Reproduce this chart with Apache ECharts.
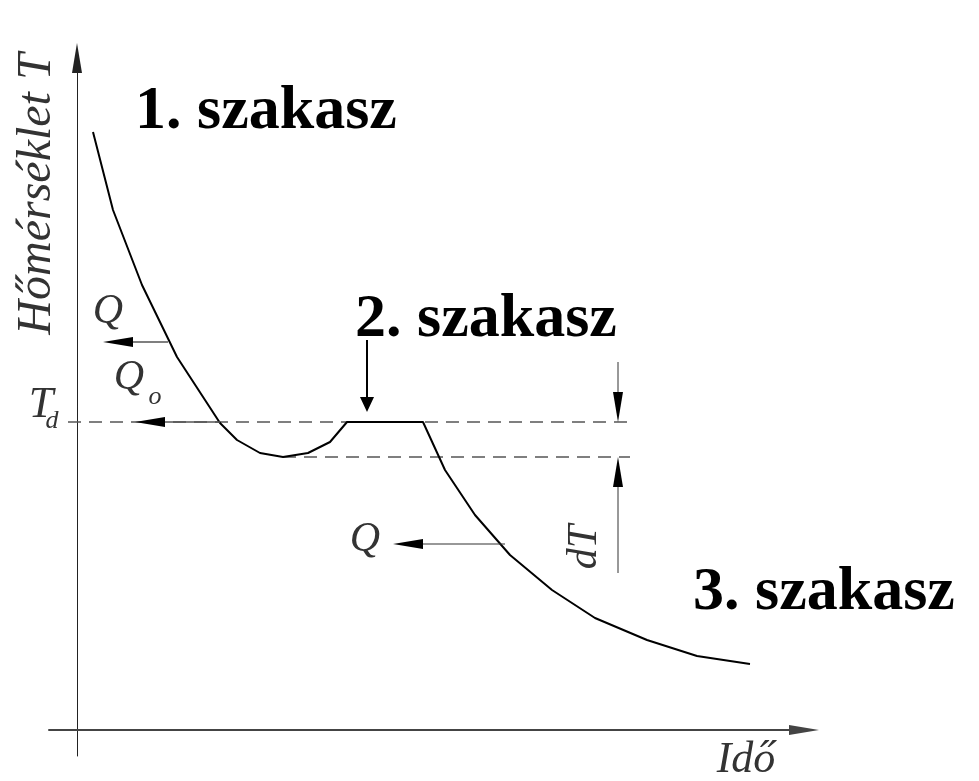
<!DOCTYPE html>
<html>
<head>
<meta charset="utf-8">
<title>Hőmérséklet – Idő</title>
<script src="https://cdn.jsdelivr.net/npm/echarts@6/dist/echarts.min.js"></script>
<style>
html, body { margin: 0; padding: 0; background: #fff; }
#main { width: 979px; height: 781px; }
</style>
</head>
<body>
<div id="main"></div>
<script>
// lehűlési görbe (tetszőleges egységek)
var curveTime = [1.6, 3.6, 6.5, 10.0, 14.3, 16.0, 18.3, 20.6, 23.1, 25.3, 27.0, 34.6, 36.8, 39.8, 43.3, 47.5, 51.8, 57.0, 62.0, 67.3];
var curveTemp = [59.8, 52.0, 44.5, 37.3, 30.7, 29.0, 27.7, 27.3, 27.7, 28.8, 30.8, 30.8, 26.0, 21.5, 17.5, 14.0, 11.2, 9.0, 7.4, 6.6];

var Td = 30.8;                  // T_d szint
var Tlow = 27.3;                // túlhűlés alja
var tdLineTime = [-0.9, 55.5];  // szaggatott vonal T_d-n
var lowLineTime = [20.6, 55.3]; // szaggatott vonal az alsó szinten

// nyilak: kezdőpont -> hegy
var arrowFrom = [[9.1, 38.8], [14.3, 30.8], [29.0, 39.0], [54.1, 36.8], [54.1, 15.7], [42.8, 18.6]];
var arrowTo   = [[2.6, 38.8], [5.8, 30.8], [29.0, 31.8], [54.1, 30.8], [54.1, 27.3], [31.6, 18.6]];

var chart = echarts.init(document.getElementById('main'));

// vonalvastagság, szín, nyílhegy hossz / szélesség
var arrowStyle = [
  {lw: 1.5, color: '#555', head: 30, w: 10},
  {lw: 1.5, color: '#555', head: 30, w: 10},
  {lw: 2,   color: '#000', head: 15, w: 14},
  {lw: 1,   color: '#333', head: 30, w: 10},
  {lw: 1,   color: '#333', head: 30, w: 10},
  {lw: 1.2, color: '#333', head: 30, w: 10}
];

var arrowData = arrowFrom.map(function (p, i) {
  return [p[0], p[1], arrowTo[i][0], arrowTo[i][1]];
});

function renderArrow(params, api) {
  var p1 = api.coord([api.value(0), api.value(1)]);
  var p2 = api.coord([api.value(2), api.value(3)]);
  var st = arrowStyle[params.dataIndex];
  var dx = p2[0] - p1[0], dy = p2[1] - p1[1];
  var len = Math.sqrt(dx * dx + dy * dy);
  var ux = dx / len, uy = dy / len;
  var bx = p2[0] - ux * st.head, by = p2[1] - uy * st.head;
  var nx = -uy * st.w / 2, ny = ux * st.w / 2;
  return {
    type: 'group',
    children: [{
      type: 'line',
      shape: {x1: p1[0], y1: p1[1], x2: bx, y2: by},
      style: {stroke: st.color, lineWidth: st.lw}
    }, {
      type: 'polygon',
      shape: {points: [[p2[0], p2[1]], [bx + nx, by + ny], [bx - nx, by - ny]]},
      style: {fill: '#000'}
    }]
  };
}

var boldFont = "bold 62px 'Liberation Serif'";
function mathText(x, y, text, size, rot) {
  return {
    type: 'text', x: x, y: y, rotation: rot || 0,
    style: {
      text: text,
      font: 'italic ' + size + "px 'Liberation Serif'",
      fill: '#333', align: 'center', verticalAlign: 'middle'
    }
  };
}

chart.setOption({
  backgroundColor: '#fff',
  animation: false,
  grid: {left: 49, right: 175, top: 58, bottom: 25},
  xAxis: {
    type: 'value',
    min: -2.8,
    max: 72.7,
    axisLine: {
      onZero: true,
      symbol: ['none', 'triangle'],
      symbolSize: [10, 30],
      lineStyle: {color: '#444', width: 2}
    },
    axisTick: {show: false},
    axisLabel: {show: false},
    splitLine: {show: false}
  },
  yAxis: {
    type: 'value',
    min: -2.6,
    max: 67.2,
    axisLine: {
      onZero: true,
      symbol: ['none', 'triangle'],
      symbolSize: [10, 30],
      lineStyle: {color: '#222', width: 1}
    },
    axisTick: {show: false},
    axisLabel: {show: false},
    splitLine: {show: false}
  },
  series: [{
    type: 'line',
    data: tdLineTime.map(function (t) { return [t, Td]; }),
    symbol: 'none',
    lineStyle: {color: '#555', width: 1.5, type: [13, 8]}
  }, {
    type: 'line',
    data: lowLineTime.map(function (t) { return [t, Tlow]; }),
    symbol: 'none',
    lineStyle: {color: '#555', width: 1.5, type: [13, 8]}
  }, {
    type: 'line',
    data: curveTime.map(function (t, i) { return [t, curveTemp[i]]; }),
    symbol: 'none',
    smooth: false,
    lineStyle: {color: '#000', width: 2}
  }, {
    type: 'custom',
    renderItem: renderArrow,
    data: arrowData,
    z: 5
  }],
  graphic: [
    {type: 'text', x: 135, y: 112, style: {text: '1. szakasz', font: boldFont, fill: '#000', verticalAlign: 'middle'}},
    {type: 'text', x: 355, y: 320, style: {text: '2. szakasz', font: boldFont, fill: '#000', verticalAlign: 'middle'}},
    {type: 'text', x: 693, y: 593, style: {text: '3. szakasz', font: boldFont, fill: '#000', verticalAlign: 'middle'}},
    mathText(37, 194, 'Hőmérséklet T', 48, Math.PI / 2),
    mathText(746, 760, 'Idő', 44),
    mathText(41, 405, 'T', 44),
    mathText(52, 421, 'd', 26),
    mathText(108, 312, 'Q', 42),
    mathText(129, 378, 'Q', 42),
    mathText(155, 397, 'o', 26),
    mathText(365, 540, 'Q', 42),
    mathText(585, 547, 'dT', 42, Math.PI / 2)
  ]
});
</script>
</body>
</html>
